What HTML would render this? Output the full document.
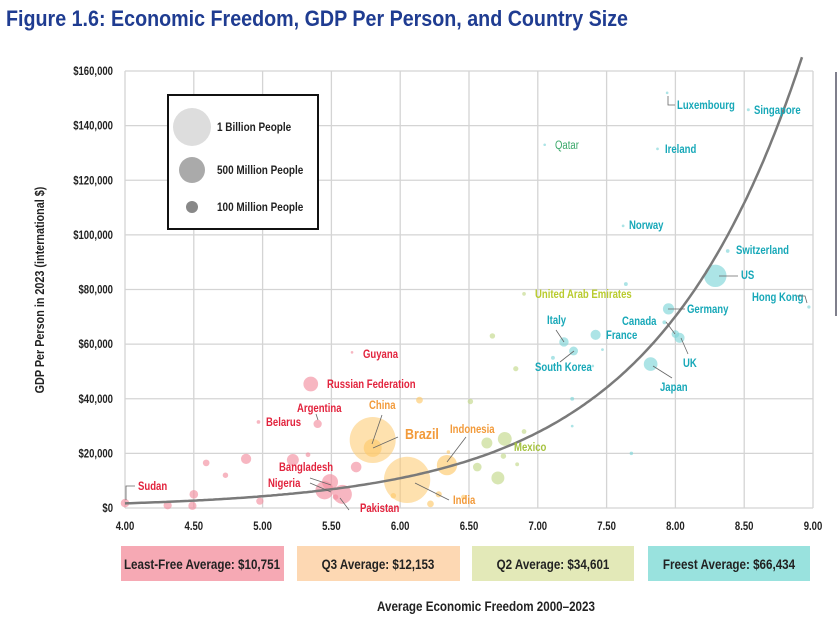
<!DOCTYPE html>
<html><head><meta charset="utf-8">
<style>
body{margin:0;background:#fff;width:838px;height:616px;overflow:hidden;font-family:"Liberation Sans",sans-serif;}
svg text{font-family:"Liberation Sans",sans-serif;}
</style></head>
<body>
<svg id="chart" width="838" height="616" xmlns="http://www.w3.org/2000/svg">
<text x="6" y="26" font-size="22" font-weight="bold" fill="#1f3c91" textLength="622" lengthAdjust="spacingAndGlyphs">Figure 1.6: Economic Freedom, GDP Per Person, and Country Size</text>
<line x1="836" y1="72" x2="836" y2="316" stroke="#556" stroke-width="1.5"/>
<g id="grid"></g>
<g id="marks"></g>
<g id="labels"></g>
<text class="c" transform="translate(44,290) rotate(-90)" text-anchor="middle" font-size="13" font-weight="bold" fill="#222">GDP Per Person in 2023 (international $)</text>
<text class="c" x="486" y="611" text-anchor="middle" font-size="14" font-weight="bold" fill="#222">Average Economic Freedom 2000–2023</text>
<g>
<rect x="168" y="95" width="150" height="134" fill="#fff" stroke="#111" stroke-width="2"/>
<circle cx="192" cy="127" r="19" fill="#ddd"/>
<text class="c" x="217" y="131" font-size="12" font-weight="bold" fill="#222">1 Billion People</text>
<circle cx="192" cy="170" r="13" fill="#aaa"/>
<text class="c" x="217" y="174" font-size="12" font-weight="bold" fill="#222">500 Million People</text>
<circle cx="192" cy="207" r="6" fill="#888"/>
<text class="c" x="217" y="211" font-size="12" font-weight="bold" fill="#222">100 Million People</text>
</g>
<g>
<rect x="121" y="546" width="163" height="35" fill="#f6a9b4"/>
<text class="c" x="202" y="569" text-anchor="middle" font-size="14" font-weight="bold" fill="#222">Least-Free Average: $10,751</text>
<rect x="297" y="546" width="163" height="35" fill="#fdd8b3"/>
<text class="c" x="378" y="569" text-anchor="middle" font-size="14" font-weight="bold" fill="#222">Q3 Average: $12,153</text>
<rect x="472" y="546" width="162" height="35" fill="#e3e9b8"/>
<text class="c" x="553" y="569" text-anchor="middle" font-size="14" font-weight="bold" fill="#222">Q2 Average: $34,601</text>
<rect x="648" y="546" width="162" height="35" fill="#99e2de"/>
<text class="c" x="729" y="569" text-anchor="middle" font-size="14" font-weight="bold" fill="#222">Freest Average: $66,434</text>
</g>
</svg>
<script>
const xTicks=[4.0,4.5,5.0,5.5,6.0,6.5,7.0,7.5,8.0,8.5,9.0];
const yTicks=[0,20000,40000,60000,80000,100000,120000,140000,160000];
const freedom=[5.80,6.05,5.80,6.34,8.29,7.82,7.95,8.03,8.00,7.42,7.19,7.26,8.38,7.62,7.87,8.53,7.94,8.97,7.05,6.90,6.76,6.71,6.63,6.56,6.51,6.84,6.90,6.85,5.35,5.40,4.97,5.65,5.49,5.45,5.58,4.00,5.22,4.88,4.73,4.59,4.50,4.31,4.49,4.98,5.68,5.33,5.53,6.14,6.35,6.22,6.28,6.46,5.95,7.11,7.25,7.47,7.64,7.92,7.68,7.25,7.40,6.67,6.75];
const gdp=[24900,10300,22000,15700,85000,52700,72900,62300,63700,63400,60800,57500,94100,103300,131500,145800,152000,73600,133000,78400,25300,11000,23800,15000,39000,51000,28000,16000,45400,30800,31500,57000,9500,6500,5000,1800,17600,18000,12000,16500,5000,1000,800,2500,15000,19500,4000,39500,20500,1500,5000,4000,4500,55000,40000,58000,82000,68000,20000,30000,52000,63000,19000];
const population=[1410,1430,215,275,335,125,84,68,39,68,59,52,9,5,5,6,0.6,7,3,9,128,112,80,50,20,18,15,10,144,46,9,0.8,170,220,240,48,95,70,20,30,50,45,45,35,75,15,20,30,8,30,25,15,20,10,10,5,10,10,8,5,4,20,20];
const group=[1,1,1,1,3,3,3,3,3,3,3,3,3,3,3,3,3,3,3,2,2,2,2,2,2,2,2,2,0,0,0,0,0,0,0,0,0,0,0,0,0,0,0,0,0,0,0,1,1,1,1,1,1,3,3,3,3,3,3,3,3,2,2];
const fills=['#f28f9f','#fdc96c','#c3d98a','#7fd6d8'];
const NS='http://www.w3.org/2000/svg';
const X0=125,X1=813,Y0=508,Y1=71;
const xs=v=>X0+(v-4)/5*(X1-X0);
const ys=v=>Y0-v/160000*(Y0-Y1);
const rs=p=>Math.max(1.3,23*Math.sqrt(p/1410));
function mk(tag,attrs,parent){const e=document.createElementNS(NS,tag);for(const k in attrs)e.setAttribute(k,attrs[k]);parent.appendChild(e);return e;}
const grid=document.getElementById('grid');
xTicks.forEach(t=>{
 const l=mk('line',{x1:xs(t),x2:xs(t),y1:Y1,y2:Y0,stroke:'#d4d4d4','stroke-width':1.3},grid);
 
 
 const tx=mk('text',{x:xs(t),y:530,'text-anchor':'middle','font-size':11.5,'font-weight':'bold',fill:'#222',class:'c'},grid);
 tx.textContent=t.toFixed(2);
 
 
});
yTicks.forEach(t=>{
 const l=mk('line',{x1:X0,x2:X1,y1:ys(t),y2:ys(t),stroke:'#d4d4d4','stroke-width':1.3},grid);
 
 
 const tx=mk('text',{x:113,y:ys(t)+4,'text-anchor':'end','font-size':11.5,'font-weight':'bold',fill:'#222',class:'c'},grid);
 tx.textContent='$'+t.toLocaleString('en-US');
 
 
});
const marks=document.getElementById('marks');
const order=population.map((p,i)=>i).sort((a,b)=>population[b]-population[a]);
order.forEach(i=>{
 const c=mk('circle',{cx:xs(freedom[i]),cy:ys(gdp[i]),r:rs(population[i]),fill:fills[group[i]],'fill-opacity':population[i]>1000?0.55:0.65},marks);
 
 
});
let d='';
for(let v=4;v<=8.93;v+=0.02){const y=1700*Math.exp(0.93*(v-4));d+=(d?'L':'M')+xs(v).toFixed(1)+','+ys(y).toFixed(1);}
const tr=mk('path',{d:d,fill:'none',stroke:'#7a7a7a','stroke-width':2.5},marks);


const lab=document.getElementById('labels');
const labels=[
['Sudan',138,490,'#e2233d'],['Guyana',363,358,'#e2233d'],['Russian Federation',327,388,'#e2233d'],['Argentina',297,412,'#e2233d'],['Belarus',266,426,'#e2233d'],['Bangladesh',279,471,'#e2233d'],['Nigeria',268,487,'#e2233d'],['Pakistan',360,512,'#e2233d'],
['China',369,409,'#f29a3a'],['Brazil',405,439,'#f29a3a'],['Indonesia',450,433,'#f29a3a'],['India',453,504,'#f29a3a'],
['Mexico',514,451,'#a5c23e'],['United Arab Emirates',535,298,'#b9cb2e'],['Qatar',555,149,'#3aa86a'],
['Luxembourg',677,109,'#17a8b8'],['Singapore',754,114,'#17a8b8'],['Ireland',665,153,'#17a8b8'],['Norway',629,229,'#17a8b8'],['Switzerland',736,254,'#17a8b8'],['US',741,279,'#17a8b8'],['Hong Kong',752,301,'#17a8b8'],['Germany',687,313,'#17a8b8'],['Canada',622,325,'#17a8b8'],['France',606,339,'#17a8b8'],['Italy',547,324,'#17a8b8'],['South Korea',535,371,'#17a8b8'],['UK',683,367,'#17a8b8'],['Japan',660,391,'#17a8b8']];
labels.forEach(L=>{
 const t=mk('text',{x:L[1],y:L[2],'font-size':L[0]=='Brazil'?15:11.5,'font-weight':L[0]=='Qatar'?'normal':'bold',fill:L[3],class:'c'},lab);
 t.textContent=L[0];
 
 
});
const leaders=[[126,500,126,486,135,486],[372,444,382,415],[373,448,398,437],[447,462,466,437],[415,483,449,500],[331,485,310,478],[331,492,310,483],[340,498,349,510],[318,420,316,414],[668,96,668,105,675,105],[719,276,738,276],[668,309,685,309],[675,334,666,322],[681,338,688,354],[653,366,672,378],[564,342,556,330],[574,351,560,362],[807,303,805,296,797,296]];
leaders.forEach(p=>{
 let dd='M'+p[0]+','+p[1];for(let k=2;k<p.length;k+=2)dd+='L'+p[k]+','+p[k+1];
 const e=mk('path',{d:dd,fill:'none',stroke:'#666','stroke-width':0.8},lab);
 
 
});
document.querySelectorAll('text.c').forEach(t=>{
 const w=t.getComputedTextLength();
 if(w>0){t.setAttribute('textLength',(w*0.83).toFixed(1));t.setAttribute('lengthAdjust','spacingAndGlyphs');}
});
</script>
</body></html>
